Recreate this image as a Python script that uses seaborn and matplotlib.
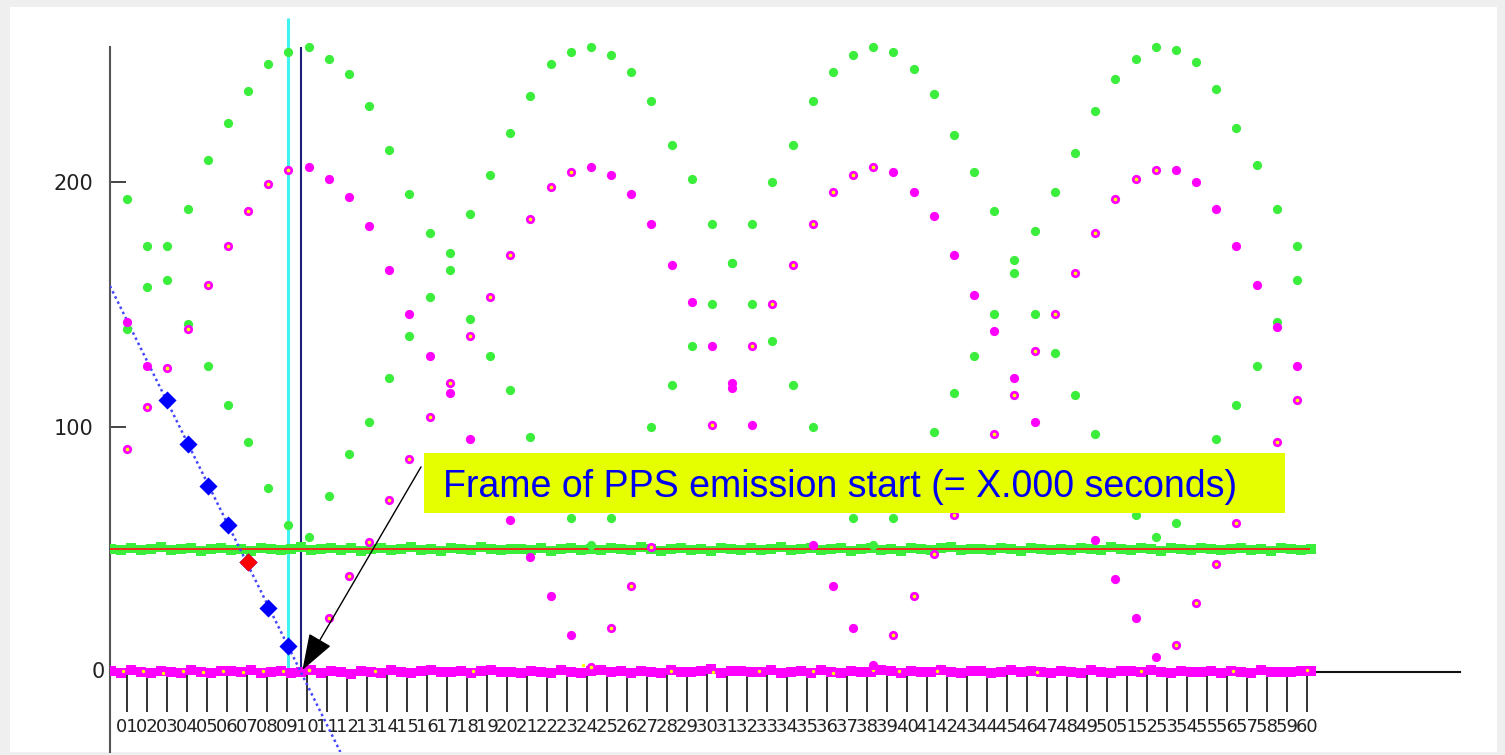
import numpy as np
import pandas as pd
import seaborn as sns
import matplotlib
matplotlib.use("Agg")
import matplotlib.pyplot as plt
from matplotlib.patches import Rectangle

# ---------------- data ----------------
TICK_LABELS = ["01", "02", "03", "04", "05", "06", "07", "08", "09", "10",
               "11", "12", "13", "14", "15", "16", "17", "18", "19", "20",
               "21", "22", "23", "24", "25", "26", "27", "28", "29", "30",
               "31", "32", "33", "34", "35", "36", "37", "38", "39", "40",
               "41", "42", "43", "44", "45", "46", "47", "48", "49", "50",
               "51", "52", "53", "54", "55", "56", "57", "58", "59", "60"]

# samples are taken slightly slower than the tick grid (1 sample = 1.0085 ticks)
SAMPLE_STEP = 1.0085
SAMPLES = list(range(59))

GREEN_UPPER = [193, 174, 174, 189, 209, 224, 237, 248, 253, 255,
               250, 244, 231, 213, 195, 179, 171, 187, 203, 220,
               235, 248, 253, 255, 252, 245, 233, 215, 201, 183,
               167, 183, 200, 215, 233, 245, 252, 255, 253, 246,
               236, 219, 204, 188, 168, 180, 196, 212, 229, 242,
               250, 255, 254, 249, 238, 222, 207, 189, 174]

GREEN_LOWER = [140, 157, 160, 142, 125, 109, 94, 75, 60, 55,
               72, 89, 102, 120, 137, 153, 164, 144, 129, 115,
               96, 80, 63, 52, 63, 80, 100, 117, 133, 150,
               167, 150, 135, 117, 100, 80, 63, 52, 63, 80,
               98, 114, 129, 146, 163, 146, 130, 113, 97, 80,
               64, 55, 61, 76, 95, 109, 125, 143, 160]

MAG_UPPER = [91, 108, 124, 140, 158, 174, 188, 199, 205, 206,
             201, 194, 182, 164, 146, 129, 118, 137, 153, 170,
             185, 198, 204, 206, 203, 195, 183, 166, 151, 133,
             118, 133, 150, 166, 183, 196, 203, 206, 204, 196,
             186, 170, 154, 139, 120, 131, 146, 163, 179, 193,
             201, 205, 205, 200, 189, 174, 158, 141, 125]

MAG_LOWER = [143, 125, None, None, None, None, None, None, None, 1,
             22, 39, 53, 70, 87, 104, 114, 95, 78, 62,
             47, 31, 15, 2, 18, 35, 51, 68, 84, 101,
             116, 101, 84, 68, 52, 35, 18, 3, 15, 31,
             48, 64, 81, 97, 113, 102, 86, 70, 54, 38,
             22, 6, 11, 28, 44, 61, 78, 94, 111]

# samples used to locate the PPS start (blue); the one under the threshold (red)
PPS_SAMPLES = [2, 3, 4, 5, 6, 7, 8]
PPS_LEVEL = [111, 93, 76, 60, 45, 26, 10.6]
PPS_RED_SAMPLE = [6]
PPS_RED_LEVEL = [45]

THRESHOLD = 50
CYAN_SAMPLE = 8

GREEN_BAND = [50.3, 49.8, 50.5, 49.6, 50.2, 50.9, 49.7, 50.1, 50.6, 49.4,
              50.3, 50.8, 49.9, 50.2, 49.5, 50.7, 50.1, 49.8, 50.4, 51.0,
              49.6, 50.2, 50.5, 49.9, 50.8, 49.3, 50.1, 50.6, 49.7, 50.3,
              50.9, 49.8, 50.2, 49.5, 50.6, 50.0, 49.7, 51.2, 50.3, 49.6,
              50.4, 50.1, 49.8, 50.7, 49.4, 50.2, 50.8, 49.9, 50.3, 49.6,
              50.5, 50.0, 49.7, 50.9, 50.2, 49.5, 50.4, 50.8, 49.8, 50.1,
              49.3, 50.6, 50.2, 49.9, 50.7, 49.6, 50.3, 51.1, 49.8, 50.2,
              50.5, 49.7, 50.0, 50.8, 49.5, 50.3, 50.6, 49.9, 50.1, 49.4,
              50.7, 50.2, 49.8, 50.5, 50.9, 49.6, 50.3, 50.0, 49.7, 50.6,
              50.2, 49.5, 50.8, 50.1, 49.9, 50.4, 49.6, 50.7, 50.3, 49.8,
              51.0, 50.2, 49.7, 50.5, 50.0, 49.4, 50.6, 50.3, 49.9, 50.8,
              50.1, 49.6, 50.4, 50.7, 49.8, 50.2, 49.5, 50.6, 50.0, 49.7,
              50.3]

MAG_BAND = [0.4, -0.3, 0.8, 0.1, -0.6, 0.5, 0.2, -0.4, 0.9, 0.0,
            -0.5, 0.6, 0.3, -0.2, 0.7, -0.6, 0.2, 0.5, -0.3, 0.1,
            0.8, -0.4, 0.3, 0.0, -0.7, 0.6, 0.2, -0.3, 0.9, 0.1,
            -0.5, 0.4, 0.7, -0.2, 0.0, 0.5, -0.6, 0.3, 0.8, -0.1,
            0.2, -0.4, 0.6, 0.1, -0.3, 0.7, 0.0, -0.5, 0.4, 0.9,
            -0.2, 0.3, -0.6, 0.5, 0.1, -0.3, 0.8, 0.2, -0.1, 0.4,
            1.2, -0.4, 0.3, 0.6, -0.2, 0.0, 0.7, -0.5, 0.2, 0.5,
            -0.3, 0.8, 0.1, -0.6, 0.4, 0.2, -0.1, 0.9, 0.3, -0.4,
            0.5, 0.0, -0.2, 0.7, 0.1, -0.5, 0.6, 0.3, -0.3, 0.2,
            0.8, -0.1, 0.4, 0.0, -0.6, 0.5, 0.2, -0.3, 0.7, 0.1,
            -0.4, 0.6, 0.3, -0.2, 0.9, 0.0, -0.5, 0.4, 0.2, -0.1,
            0.6, -0.3, 0.5, 0.1, -0.4, 0.7, 0.2, 0.0, -0.2, 0.5,
            0.4]

BAND_LIT_FRAMES = [-0.2, 0.8, 1.8, 2.8, 3.8, 4.8, 5.8, 6.8, 7.8, 12.4, 17.3,
                   22.8, 27.2, 29.3, 31.6, 34.3, 35.3, 37.3, 38.6, 40.5,
                   45.5, 50.7, 55.3, 59.0]
BAND_LIT_LEVEL = [0.5, 0.3, -0.6, 0.4, 0.2, 0.5, 0.1, 0.3, 0.4, 0.6, 0.4,
                  2.8, 0.5, 0.2, 0.6, 0.4, -0.3, 0.7, 0.3, 0.5,
                  0.2, 0.6, 0.4, 0.8]

# ---------------- style ----------------
sns.set_style("white")
plt.rcParams["font.family"] = ["Liberation Sans Narrow", "DejaVu Sans"]

W, H = 1505, 755
fig = plt.figure(figsize=(W / 100, H / 100), dpi=100, facecolor="#efefef")
fig.patches.append(Rectangle((10 / W, 3 / H), 1487 / W, 745 / H,
                             transform=fig.transFigure, facecolor="white",
                             edgecolor="none", zorder=-5))
ax = fig.add_axes([110 / W, 3 / H, 1387 / W, 745 / H])
ax.patch.set_alpha(0)

GREEN = "#3cee3c"
MAGENTA = "#ff00ff"
YELLOW = "#ffff00"

band_x = np.arange(-0.8, 59.25, 0.5)
band_df = pd.DataFrame({"frame": band_x, "green": GREEN_BAND, "mag": MAG_BAND})

# noise bands
sns.scatterplot(data=band_df, x="frame", y="green", ax=ax, color=GREEN,
                marker="s", s=56, linewidth=0, zorder=3, legend=False)
sns.scatterplot(data=band_df, x="frame", y="mag", ax=ax, color=MAGENTA,
                marker="s", s=50, linewidth=0, zorder=3, legend=False)
sns.scatterplot(x=BAND_LIT_FRAMES, y=BAND_LIT_LEVEL, ax=ax, color=YELLOW,
                s=6, linewidth=0, zorder=3.5, legend=False)

# threshold line
ax.hlines(THRESHOLD, -0.85, 59.15, color="#ff1a1a", lw=1.3, zorder=3.2)

# curves
pos = np.array(SAMPLES) * SAMPLE_STEP
curves = pd.DataFrame({"x": pos,
                       "gu": GREEN_UPPER, "gl": GREEN_LOWER,
                       "mu": np.array(MAG_UPPER, dtype=float),
                       "ml": np.array(MAG_LOWER, dtype=float)})
for col in ["gu", "gl"]:
    sns.scatterplot(data=curves, x="x", y=col, ax=ax, color=GREEN, s=44,
                    linewidth=0, zorder=5, legend=False)
for col in ["mu", "ml"]:
    sns.scatterplot(data=curves, x="x", y=col, ax=ax, color=MAGENTA, s=44,
                    linewidth=0, zorder=5, legend=False)
    vals = curves[col].to_numpy()
    rising = np.gradient(np.nan_to_num(vals, nan=0.0)) > 0
    lit = curves[rising & ~np.isnan(vals)]
    sns.scatterplot(data=lit, x="x", y=col, ax=ax, color=YELLOW, s=7,
                    linewidth=0, zorder=5.5, legend=False)

# PPS fit
pps_x = np.array(PPS_SAMPLES) * SAMPLE_STEP
slope, icpt = np.polyfit(pps_x, PPS_LEVEL, 1)
x_zero = -icpt / slope
y_bottom = -32.65
fit_x = np.array([-0.85, (y_bottom - icpt) / slope])
sns.lineplot(x=fit_x, y=slope * fit_x + icpt, ax=ax, color="#4646ff", lw=1.8,
             linestyle=(0, (1, 1.3)), zorder=4, legend=False)
sns.scatterplot(x=pps_x, y=PPS_LEVEL, ax=ax, color="#0000ff", marker="D",
                s=85, linewidth=0, zorder=6, legend=False)
sns.scatterplot(x=np.array(PPS_RED_SAMPLE) * SAMPLE_STEP, y=PPS_RED_LEVEL,
                ax=ax, color="#ff0000", marker="D", s=85, linewidth=0,
                zorder=6.5, legend=False)

# vertical markers
ax.vlines(CYAN_SAMPLE * SAMPLE_STEP, 0, 267, color="#3ff3f3", lw=2.2, zorder=2)
ax.vlines(x_zero, 0, 255, color="#1e1e7c", lw=1.5, zorder=2)

# axes
ax.set_xlim(-0.85, 68.5)
ax.set_ylim(-32.65, 271.4)
for s in ["top", "right"]:
    ax.spines[s].set_visible(False)
ax.spines["bottom"].set_position(("data", 0))
ax.spines["bottom"].set_bounds(-0.85, 66.65)
ax.spines["bottom"].set_color("#111111")
ax.spines["bottom"].set_linewidth(1.5)
ax.spines["bottom"].set_zorder(1)
ax.spines["left"].set_bounds(-32.65, 255)
ax.spines["left"].set_color("#555555")
ax.spines["left"].set_linewidth(1.5)

ax.set_xticks(range(len(TICK_LABELS)))
ax.set_xticklabels(TICK_LABELS)
ax.tick_params(axis="x", bottom=True, direction="out", length=28.8, width=1.4,
               color="#333333", pad=4.5, labelsize=13, labelcolor="#222222")
ax.set_yticks([100, 200])
ax.set_yticklabels(["100", "200"])
ax.tick_params(axis="y", left=True, direction="in", length=11.5, width=1.4,
               color="#444444", pad=12.2, labelsize=15, labelcolor="#222222")
ax.annotate("0", xy=(-0.85, 0), xytext=(-5, 0), textcoords="offset pixels",
            ha="right", va="center", fontsize=15, color="#222222")
ax.set_xlabel("")
ax.set_ylabel("")

# annotation box
ax.add_patch(Rectangle((14.85, 64.9), 43.05, 24.5, facecolor="#e5ff00",
                       edgecolor="none", zorder=7))
ax.text(15.8, 71.4, "Frame of PPS emission start (= X.000 seconds)",
        fontsize=27, color="#0000ee", family=["Liberation Sans", "DejaVu Sans"],
        va="baseline", ha="left", zorder=8)
ax.annotate("", xy=(x_zero + 0.08, 0.8), xytext=(14.7, 83.7),
            arrowprops=dict(arrowstyle="-|>,head_length=1.15,head_width=0.4",
                            mutation_scale=20, color="black", lw=1.0,
                            shrinkA=0, shrinkB=0),
            zorder=8)

fig.savefig("out.png", dpi=100, facecolor=fig.get_facecolor())
